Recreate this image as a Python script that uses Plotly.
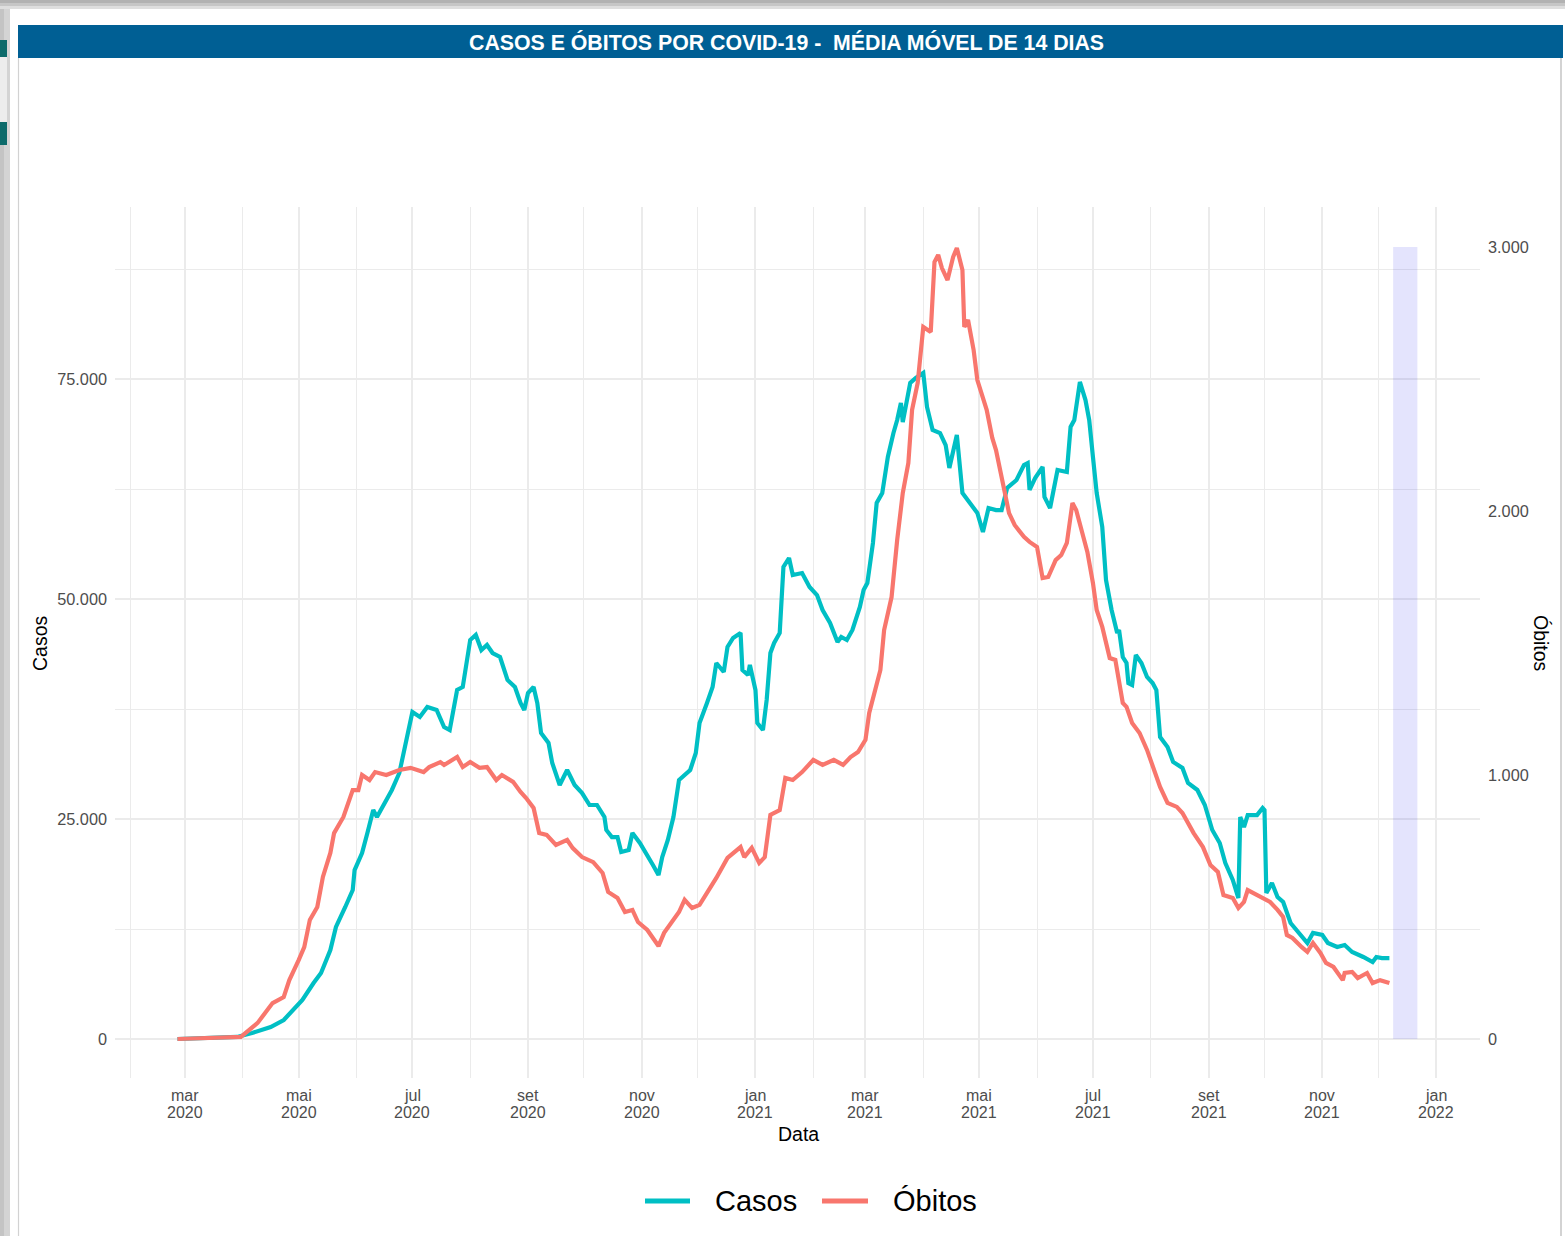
import plotly.graph_objects as go

# ---------------- DATA ----------------
datas_casos = [
    "2020-02-26", "2020-03-29", "2020-04-06", "2020-04-16", "2020-04-23", "2020-04-28",
    "2020-05-03", "2020-05-09", "2020-05-13", "2020-05-18", "2020-05-21", "2020-05-26",
    "2020-05-30", "2020-05-31", "2020-06-04", "2020-06-07", "2020-06-10", "2020-06-12",
    "2020-06-15", "2020-06-20", "2020-06-24", "2020-06-28", "2020-07-01", "2020-07-05",
    "2020-07-09", "2020-07-14", "2020-07-18", "2020-07-21", "2020-07-23", "2020-07-25",
    "2020-07-28", "2020-07-30", "2020-08-01", "2020-08-04", "2020-08-07", "2020-08-10",
    "2020-08-13", "2020-08-17", "2020-08-21", "2020-08-25", "2020-08-28", "2020-08-30",
    "2020-09-01", "2020-09-04", "2020-09-06", "2020-09-08", "2020-09-12", "2020-09-14",
    "2020-09-18", "2020-09-22", "2020-09-26", "2020-09-30", "2020-10-04", "2020-10-08",
    "2020-10-12", "2020-10-13", "2020-10-16", "2020-10-19", "2020-10-21", "2020-10-25",
    "2020-10-27", "2020-10-31", "2020-11-04", "2020-11-07", "2020-11-10", "2020-11-12",
    "2020-11-15", "2020-11-18", "2020-11-21", "2020-11-23", "2020-11-27", "2020-11-30",
    "2020-12-02", "2020-12-06", "2020-12-09", "2020-12-11", "2020-12-15", "2020-12-17",
    "2020-12-20", "2020-12-24", "2020-12-25", "2020-12-28", "2020-12-29", "2021-01-01",
    "2021-01-02", "2021-01-05", "2021-01-07", "2021-01-09", "2021-01-11", "2021-01-14",
    "2021-01-16", "2021-01-19", "2021-01-21", "2021-01-26", "2021-01-30", "2021-02-03",
    "2021-02-06", "2021-02-10", "2021-02-14", "2021-02-16", "2021-02-19", "2021-02-22",
    "2021-02-26", "2021-02-28", "2021-03-02", "2021-03-05", "2021-03-07", "2021-03-10",
    "2021-03-13", "2021-03-16", "2021-03-18", "2021-03-20", "2021-03-21", "2021-03-25",
    "2021-03-28", "2021-04-01", "2021-04-03", "2021-04-06", "2021-04-10", "2021-04-13",
    "2021-04-15", "2021-04-19", "2021-04-22", "2021-04-26", "2021-04-30", "2021-05-03",
    "2021-05-06", "2021-05-10", "2021-05-13", "2021-05-16", "2021-05-21", "2021-05-25",
    "2021-05-27", "2021-05-28", "2021-05-31", "2021-06-04", "2021-06-05", "2021-06-08",
    "2021-06-12", "2021-06-17", "2021-06-19", "2021-06-21", "2021-06-24", "2021-06-27",
    "2021-06-29", "2021-07-01", "2021-07-03", "2021-07-06", "2021-07-08", "2021-07-11",
    "2021-07-14", "2021-07-15", "2021-07-17", "2021-07-19", "2021-07-20", "2021-07-22",
    "2021-07-24", "2021-07-27", "2021-07-30", "2021-08-02", "2021-08-04", "2021-08-06",
    "2021-08-10", "2021-08-13", "2021-08-18", "2021-08-21", "2021-08-26", "2021-08-30",
    "2021-09-03", "2021-09-07", "2021-09-10", "2021-09-14", "2021-09-17", "2021-09-18",
    "2021-09-20", "2021-09-22", "2021-09-27", "2021-09-30", "2021-10-01", "2021-10-02",
    "2021-10-05", "2021-10-08", "2021-10-11", "2021-10-15", "2021-10-20", "2021-10-24",
    "2021-10-27", "2021-11-01", "2021-11-04", "2021-11-09", "2021-11-13", "2021-11-17",
    "2021-11-23", "2021-11-28", "2021-11-30", "2021-12-03", "2021-12-07",
]
casos = [
    0, 230, 680, 1360, 2160, 3300,
    4430, 6360, 7500, 10110, 12730, 15000,
    16930, 19200, 21140, 23520, 26020, 25230,
    26360, 28300, 30230, 34200, 37160, 36590,
    37730, 37390, 35450, 35110, 37730, 39660,
    40000, 42730, 45340, 45910, 44200, 44770,
    43860, 43410, 40800, 40000, 38180, 37390,
    39320, 40000, 38180, 34770, 33640, 31360,
    28860, 30570, 28860, 27950, 26590, 26590,
    25230, 23750, 22950, 22950, 21250, 21480,
    23410, 22270, 20910, 19770, 18640, 20680,
    22610, 25230, 29430, 29770, 30570, 32500,
    35910, 38180, 40000, 42730, 41700, 44550,
    45570, 46140, 41930, 41360, 42500, 39660,
    35910, 35110, 38520, 43860, 45000, 46140,
    53640, 54660, 52730, 52950, 51360, 50450,
    48750, 47270, 45110, 45680, 45340, 46480,
    49090, 51020, 51820, 56360, 60910, 62050,
    66140, 68860, 70340, 72270, 70110, 74550,
    75110, 75680, 71820, 69200, 68860, 67500,
    64890, 68640, 62050, 60910, 59770, 57610,
    60340, 60110, 60110, 62610, 63520, 65230,
    65450, 62390, 63750, 65000, 61590, 60340,
    64660, 64430, 69550, 70340, 74660, 72610,
    70340, 66140, 62050, 58180, 52160, 48750,
    46140, 46480, 43410, 42730, 40450, 40230,
    43640, 42730, 41140, 40450, 39660, 34320,
    33180, 31480, 30800, 29090, 28300, 26590,
    23750, 22270, 20000, 18070, 16020, 25230,
    24090, 25450, 25450, 26250, 26020, 16590,
    17730, 16140, 15570, 13180, 11820, 10910,
    12050, 11820, 10910, 10450, 10680, 9890,
    9320, 8750, 9320, 9200, 9200,
]

datas_obitos = [
    "2020-02-26", "2020-03-31", "2020-04-09", "2020-04-17", "2020-04-23", "2020-04-26",
    "2020-05-01", "2020-05-04", "2020-05-07", "2020-05-11", "2020-05-14", "2020-05-18",
    "2020-05-20", "2020-05-25", "2020-05-30", "2020-06-02", "2020-06-04", "2020-06-08",
    "2020-06-11", "2020-06-17", "2020-06-24", "2020-06-30", "2020-07-07", "2020-07-10",
    "2020-07-16", "2020-07-18", "2020-07-25", "2020-07-28", "2020-08-01", "2020-08-06",
    "2020-08-10", "2020-08-15", "2020-08-18", "2020-08-24", "2020-08-28", "2020-08-31",
    "2020-09-04", "2020-09-07", "2020-09-11", "2020-09-16", "2020-09-22", "2020-09-25",
    "2020-09-30", "2020-10-06", "2020-10-11", "2020-10-14", "2020-10-19", "2020-10-23",
    "2020-10-27", "2020-10-30", "2020-11-04", "2020-11-07", "2020-11-10", "2020-11-13",
    "2020-11-17", "2020-11-21", "2020-11-24", "2020-11-28", "2020-12-02", "2020-12-06",
    "2020-12-11", "2020-12-17", "2020-12-20", "2020-12-24", "2020-12-26", "2020-12-30",
    "2021-01-03", "2021-01-06", "2021-01-09", "2021-01-14", "2021-01-17", "2021-01-21",
    "2021-01-26", "2021-02-01", "2021-02-06", "2021-02-12", "2021-02-17", "2021-02-21",
    "2021-02-25", "2021-03-01", "2021-03-03", "2021-03-09", "2021-03-11", "2021-03-15",
    "2021-03-18", "2021-03-21", "2021-03-24", "2021-03-26", "2021-03-29", "2021-04-01",
    "2021-04-05", "2021-04-07", "2021-04-09", "2021-04-11", "2021-04-14", "2021-04-17",
    "2021-04-19", "2021-04-22", "2021-04-23", "2021-04-25", "2021-04-28", "2021-04-30",
    "2021-05-05", "2021-05-08", "2021-05-10", "2021-05-14", "2021-05-17", "2021-05-20",
    "2021-05-25", "2021-05-28", "2021-06-01", "2021-06-04", "2021-06-07", "2021-06-11",
    "2021-06-14", "2021-06-17", "2021-06-20", "2021-06-22", "2021-06-25", "2021-06-28",
    "2021-07-01", "2021-07-03", "2021-07-06", "2021-07-10", "2021-07-13", "2021-07-17",
    "2021-07-19", "2021-07-22", "2021-07-26", "2021-07-30", "2021-08-06", "2021-08-10",
    "2021-08-15", "2021-08-18", "2021-08-24", "2021-08-29", "2021-09-02", "2021-09-06",
    "2021-09-09", "2021-09-14", "2021-09-17", "2021-09-20", "2021-09-22", "2021-09-27",
    "2021-10-01", "2021-10-04", "2021-10-08", "2021-10-11", "2021-10-13", "2021-10-16",
    "2021-10-21", "2021-10-24", "2021-10-27", "2021-10-31", "2021-11-03", "2021-11-07",
    "2021-11-12", "2021-11-13", "2021-11-17", "2021-11-20", "2021-11-25", "2021-11-28",
    "2021-12-02", "2021-12-07",
]
obitos = [
    0, 8, 61, 136, 159, 223,
    299, 348, 451, 500, 614, 705,
    780, 841, 943, 943, 1000, 981,
    1011, 1000, 1019, 1027, 1011, 1030,
    1049, 1038, 1068, 1030, 1049, 1027,
    1030, 981, 1000, 974, 936, 913,
    875, 780, 773, 735, 754, 723,
    689, 670, 629, 557, 534, 481,
    489, 443, 413, 383, 352, 402,
    439, 481, 527, 496, 508, 553,
    610, 686, 705, 727, 689, 724,
    667, 689, 849, 867, 989, 981,
    1011, 1057, 1038, 1057, 1038, 1068,
    1087, 1133, 1235, 1398, 1549, 1674,
    1890, 2068, 2182, 2383, 2485, 2697,
    2678, 2943, 2970, 2920, 2875, 2962,
    2996, 2913, 2697, 2724, 2610, 2496,
    2383, 2277, 2231, 2091, 1992, 1947,
    1902, 1883, 1864, 1746, 1750, 1814,
    1833, 1879, 2030, 2004, 1928, 1845,
    1727, 1625, 1561, 1443, 1436, 1273,
    1258, 1197, 1159, 1095, 955, 894,
    879, 856, 780, 727, 659, 633,
    545, 534, 496, 519, 564, 545,
    534, 519, 489, 462, 394, 383,
    348, 330, 364, 326, 288, 273,
    223, 250, 254, 231, 250, 212,
    223, 212,
]

# highlighted period (shaded band) and its height on the Óbitos axis
periodo_destaque = ["2021-12-09", "2021-12-22"]
altura_destaque_obitos = 3000

# axes ticks
ticks_datas = ["2020-03-01", "2020-05-01", "2020-07-01", "2020-09-01", "2020-11-01", "2021-01-01",
               "2021-03-01", "2021-05-01", "2021-07-01", "2021-09-01", "2021-11-01", "2022-01-01"]
rotulos_mes = ["mar", "mai", "jul", "set", "nov", "jan", "mar", "mai", "jul", "set", "nov", "jan"]
rotulos_ano = ["2020", "2020", "2020", "2020", "2020", "2021", "2021", "2021", "2021", "2021", "2021", "2022"]
minor_datas = ["2020-02-01", "2020-04-01", "2020-06-01", "2020-08-01", "2020-10-01", "2020-12-01",
               "2021-02-01", "2021-04-01", "2021-06-01", "2021-08-01", "2021-10-01", "2021-12-01"]
ticks_casos = [0, 25000, 50000, 75000]
rotulos_casos = ["0", "25.000", "50.000", "75.000"]
minor_casos = [12500, 37500, 62500, 87500]
ticks_obitos = [0, 1000, 2000, 3000]
rotulos_obitos = ["0", "1.000", "2.000", "3.000"]
razao_eixos = 30  # casos axis / óbitos axis

# ---------------- LAYOUT GEOMETRY ----------------
W, H = 1565, 1236
ML, MR, MT, MB = 115, 85, 207, 158
PW, PH = W - ML - MR, H - MT - MB


def px(x):
    return (x - ML) / PW


def py(y):
    return (H - MB - y) / PH


FONT = "Liberation Sans, Arial, Helvetica, sans-serif"
GRID = "#EBEBEB"
TXT = "#4D4D4D"
COR_CASOS = "#00BFC4"
COR_OBITOS = "#F8766D"

casos_range = [-4432, 94545]
obitos_range = [casos_range[0] / razao_eixos, casos_range[1] / razao_eixos]

fig = go.Figure()
fig.add_trace(go.Scatter(x=datas_obitos, y=obitos, name="Óbitos", mode="lines",
                         line=dict(color=COR_OBITOS, width=4.2), yaxis="y2", showlegend=False))
fig.add_trace(go.Scatter(x=datas_casos, y=casos, name="Casos", mode="lines",
                         line=dict(color=COR_CASOS, width=4.2), yaxis="y", showlegend=False))

shapes = []
# shaded period
shapes.append(dict(type="rect", xref="x", yref="y2",
                   x0=periodo_destaque[0], x1=periodo_destaque[1],
                   y0=0, y1=altura_destaque_obitos,
                   fillcolor="rgba(0,0,235,0.105)", line=dict(width=0), layer="above"))


def prect(x0, y0, x1, y1, color):
    shapes.append(dict(type="rect", xref="paper", yref="paper",
                       x0=px(x0), x1=px(x1), y0=py(y1), y1=py(y0),
                       fillcolor=color, line=dict(width=0), layer="above"))


def pline(x0, y0, x1, y1, color, width):
    shapes.append(dict(type="line", xref="paper", yref="paper",
                       x0=px(x0), x1=px(x1), y0=py(y0), y1=py(y1),
                       line=dict(color=color, width=width), layer="above"))


# screenshot frame decoration
prect(0, 0, 10, H, "#D4D4D4")
prect(0, 0, 4, H, "#C4C4C4")
prect(0, 0, W, 3, "#B2B2B2")
prect(0, 3, W, 6, "#C6C6C6")
prect(0, 6, W, 9, "#DEDEDE")
prect(0, 40, 7, 57, "#0D6B6B")
prect(0, 57, 7, 122, "#EDEDED")
prect(0, 122, 7, 145, "#0D6B6B")
pline(18.5, 58, 18.5, H, "#D2D2D2", 1.2)
pline(1561, 58, 1561, H, "#C4C4C4", 1.5)
# title band
prect(18, 25, 1563, 58, "#005F94")

# legend (manual)
pline(645, 1201, 690, 1201, COR_CASOS, 5)
pline(822, 1201, 868, 1201, COR_OBITOS, 5)

annotations = []
annotations.append(dict(x=px(786.5), y=py(42), xref="paper", yref="paper",
                        text="<b>CASOS E ÓBITOS POR COVID-19 -\u00a0 MÉDIA MÓVEL DE 14 DIAS</b>",
                        showarrow=False, font=dict(family=FONT, size=21.3, color="white"),
                        xanchor="center", yanchor="middle"))
for d, m, a in zip(ticks_datas, rotulos_mes, rotulos_ano):
    annotations.append(dict(x=d, y=py(1095), xref="x", yref="paper", text=m, showarrow=False,
                            font=dict(family=FONT, size=16, color=TXT), xanchor="center", yanchor="middle"))
    annotations.append(dict(x=d, y=py(1112), xref="x", yref="paper", text=a, showarrow=False,
                            font=dict(family=FONT, size=16, color=TXT), xanchor="center", yanchor="middle"))
annotations.append(dict(x=px(798), y=py(1134), xref="paper", yref="paper", text="Data", showarrow=False,
                        font=dict(family=FONT, size=19.5, color="black"), xanchor="center", yanchor="middle"))
annotations.append(dict(x=px(40), y=py(643), xref="paper", yref="paper", text="Casos", showarrow=False,
                        textangle=-90, font=dict(family=FONT, size=19.5, color="black"),
                        xanchor="center", yanchor="middle"))
annotations.append(dict(x=px(1541), y=py(643), xref="paper", yref="paper", text="Óbitos", showarrow=False,
                        textangle=90, font=dict(family=FONT, size=19.5, color="black"),
                        xanchor="center", yanchor="middle"))
annotations.append(dict(x=px(713), y=py(1201), xref="paper", yref="paper", text="Casos", showarrow=False,
                        font=dict(family=FONT, size=29, color="black"), xanchor="left", yanchor="middle"))
annotations.append(dict(x=px(891), y=py(1201), xref="paper", yref="paper", text="Óbitos", showarrow=False,
                        font=dict(family=FONT, size=29, color="black"), xanchor="left", yanchor="middle"))

fig.update_layout(
    width=W, height=H,
    margin=dict(l=ML, r=MR, t=MT, b=MB, pad=0),
    paper_bgcolor="white", plot_bgcolor="white",
    font=dict(family=FONT, color=TXT),
    showlegend=False,
    shapes=shapes,
    annotations=annotations,
    xaxis=dict(type="date", range=["2020-01-23 12:00", "2022-01-24 14:00"],
               tickmode="array", tickvals=ticks_datas, showticklabels=False,
               showgrid=True, gridcolor=GRID, gridwidth=2.3, zeroline=False, showline=False, ticks="",
               minor=dict(tickmode="array", tickvals=minor_datas, showgrid=True,
                          gridcolor=GRID, gridwidth=1.3, ticks="")),
    yaxis=dict(range=casos_range, tickmode="array", tickvals=ticks_casos, ticktext=rotulos_casos,
               showgrid=True, gridcolor=GRID, gridwidth=2.3, zeroline=False, showline=False, ticks="",
               tickfont=dict(family=FONT, size=16.3, color=TXT), ticklabelstandoff=7,
               minor=dict(tickmode="array", tickvals=minor_casos, showgrid=True,
                          gridcolor=GRID, gridwidth=1.3, ticks="")),
    yaxis2=dict(range=obitos_range, overlaying="y", side="right", anchor="x",
                tickmode="array", tickvals=ticks_obitos, ticktext=rotulos_obitos,
                showgrid=False, zeroline=False, showline=False, ticks="",
                tickfont=dict(family=FONT, size=16.3, color=TXT), ticklabelstandoff=7),
)

fig.write_html("out.html", config={"displayModeBar": False},
               post_script="document.body.style.margin='0';document.body.style.overflow='hidden';")
